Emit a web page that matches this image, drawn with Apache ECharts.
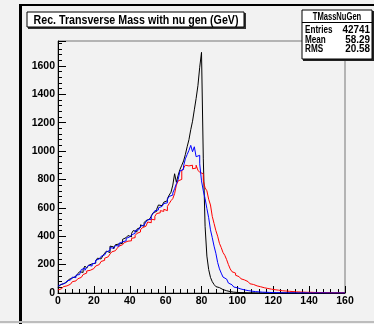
<!DOCTYPE html>
<html><head><meta charset="utf-8">
<script src="https://cdn.jsdelivr.net/npm/echarts@6/dist/echarts.min.js"></script>
<style>html,body{margin:0;padding:0;background:#f2f2f2}#c{width:374px;height:324px}</style>
</head><body><div id="c"></div>
<script>
// Bin lower edges 0..159 (1 GeV bins), values per bin
const xTicks = [0, 20, 40, 60, 80, 100, 120, 140, 160];
const yTicks = [0, 200, 400, 600, 800, 1000, 1200, 1400, 1600];
const titleText = "Rec. Transverse Mass with nu gen (GeV)";
const statsName = "TMassNuGen";
const statsRows = [["Entries", "42741"], ["Mean", "58.29"], ["RMS", "20.58"]];

const blackVals = [
 40,55,65,72,78,90,95,105,100,118, 125,135,150,145,165,190,175,195,205,200,
 210,225,245,240,250,262,280,295,285,330, 325,310,340,345,355,350,378,390,380,405,
 395,420,440,430,450,462,480,470,495,510, 520,530,540,565,575,590,620,615,625,640,
 650,665,690,710,760,840,780,830,870,900, 930,975,1030,1080,1150,1210,1290,1370,1460,1590,
 1695,950,470,260,165,110,80,60,45,38, 28,24,20,16,13,10,8,6,5,4,
 3,3,2,2,2,1,1,1,1,1, 1,0,1,0,0,1,0,0,0,0,
 0,0,0,0,0,0,0,0,0,0, 0,0,0,0,0,0,0,0,0,0,
 0,0,0,0,0,0,0,0,0,0, 0,0,0,0,0,0,0,0,0,0
];
const blueVals = [
 48,62,70,68,80,85,92,100,112,108, 125,130,140,165,175,160,180,195,190,205,
 212,230,240,235,258,268,272,290,300,320, 315,318,335,330,350,360,372,368,385,395,
 393,410,420,440,445,452,470,478,490,500, 515,520,545,560,580,585,600,610,620,630,
 635,660,680,690,705,735,770,800,860,870, 895,945,975,1005,1040,995,1030,960,970,910,
 790,720,665,595,530,445,390,330,280,215, 170,140,112,98,84,70,58,50,42,37,
 32,28,25,22,20,17,15,13,12,10, 9,8,7,6,5,5,4,4,3,3,
 3,2,2,2,2,1,2,1,1,1, 1,1,1,0,1,1,0,1,0,0,
 1,0,0,1,0,0,0,1,0,0, 0,0,1,0,0,0,0,0,0,0
];
const redVals = [
 22,30,40,45,50,55,62,70,80,85, 90,100,110,118,130,140,155,160,165,172,
 178,190,200,210,222,230,245,255,260,275, 290,298,300,315,330,340,345,355,365,370,
 368,385,390,405,420,430,445,460,470,480, 500,495,520,515,540,560,565,580,575,590,
 580,610,630,650,665,700,760,790,800,860, 880,900,895,885,900,875,880,900,865,850,
 840,790,740,720,660,620,540,490,440,400, 350,320,285,265,235,200,170,150,140,125,
 115,108,100,92,85,80,72,65,60,55, 50,47,44,40,37,34,32,30,27,25,
 23,22,20,18,16,15,14,13,12,11, 10,9,8,8,7,7,6,6,5,5,
 5,4,4,4,3,3,3,2,2,2, 2,2,1,1,1,1,1,1,1,1
];

function hist(vals) {
  const d = vals.map((v, i) => [i, v]);
  d.push([vals.length, vals[vals.length - 1]]);
  return d;
}

const FONT = "'Liberation Sans',Arial,sans-serif";
const chart = echarts.init(document.getElementById('c'), null, {renderer: 'canvas'});
const lineSeries = (name, vals, color) => ({
  name, type: 'line', data: hist(vals), step: 'end', symbol: 'none', showSymbol: false,
  lineStyle: {color, width: 1}, itemStyle: {color}, animation: false, clip: true, z: 3
});

function txt(x, y, text, size, align, sx) {
  return {type: 'text', x, y, scaleX: sx,
    style: {text, font: 'bold ' + size + 'px ' + FONT, fill: '#000', align, verticalAlign: 'middle'}, silent: true, z: 10};
}

chart.setOption({
  backgroundColor: '#f2f2f2',
  animation: false,
  grid: {left: 58, top: 41, right: 29, bottom: 31, show: true, borderColor: '#777', borderWidth: 1, backgroundColor: 'transparent'},
  xAxis: {
    type: 'value', min: 0, max: 160, interval: 20,
    axisLine: {show: true, onZero: false, lineStyle: {color: '#000', width: 1}},
    axisTick: {show: true, inside: true, length: 7, lineStyle: {color: '#000'}},
    minorTick: {show: true, splitNumber: 5, length: 4, lineStyle: {color: '#000'}},
    splitLine: {show: false},
    axisLabel: {color: '#000', fontWeight: 'bold', fontSize: 10.5, fontFamily: FONT, margin: 3,
      formatter: v => xTicks.includes(v) ? String(v) : ''}
  },
  yAxis: {
    type: 'value', min: 0, max: 1775, interval: 200,
    axisLine: {show: true, onZero: false, lineStyle: {color: '#000', width: 1}},
    axisTick: {show: true, inside: true, length: 8, lineStyle: {color: '#000'}},
    minorTick: {show: true, splitNumber: 5, length: 4, lineStyle: {color: '#000'}},
    splitLine: {show: false},
    axisLabel: {color: '#000', fontWeight: 'bold', fontSize: 10.5, fontFamily: FONT, margin: 3, showMaxLabel: false,
      formatter: v => yTicks.includes(v) ? String(v) : ''}
  },
  series: [
    lineSeries('black', blackVals, '#000000'),
    lineSeries('red', redVals, '#ff0000'),
    lineSeries('blue', blueVals, '#0000ff')
  ],
  graphic: [
    // canvas bevel borders
    {type: 'rect', shape: {x: 19, y: 4, width: 3, height: 320}, style: {fill: '#000'}, silent: true},
    {type: 'rect', shape: {x: 19, y: 4, width: 355, height: 2}, style: {fill: '#000'}, silent: true},
    {type: 'rect', shape: {x: 0, y: 321, width: 374, height: 2}, style: {fill: '#bdbdbd'}, silent: true},
    // title box
    {type: 'rect', shape: {x: 28, y: 13, width: 218, height: 16}, style: {fill: '#333'}, silent: true},
    {type: 'rect', shape: {x: 27, y: 12, width: 217, height: 15}, style: {fill: '#fff', stroke: '#000', lineWidth: 1}, silent: true},
    txt(136, 20, titleText, 13, 'center', 0.82),
    // stats box
    {type: 'rect', shape: {x: 303, y: 11, width: 71, height: 50}, style: {fill: '#222'}, silent: true},
    {type: 'rect', shape: {x: 302, y: 10, width: 70, height: 49}, style: {fill: '#fff', stroke: '#000', lineWidth: 1}, silent: true},
    {type: 'line', shape: {x1: 302, y1: 22.5, x2: 372, y2: 22.5}, style: {stroke: '#000', lineWidth: 1}, silent: true},
    txt(337, 16.5, statsName, 11.5, 'center', 0.66),
    ...statsRows.flatMap((r, i) => [
      txt(305, 30 + i * 9.6, r[0], 11, 'left', 0.74),
      txt(370, 30 + i * 9.6, r[1], 11, 'right', 0.9)
    ])
  ]
});
</script>
</body></html>
